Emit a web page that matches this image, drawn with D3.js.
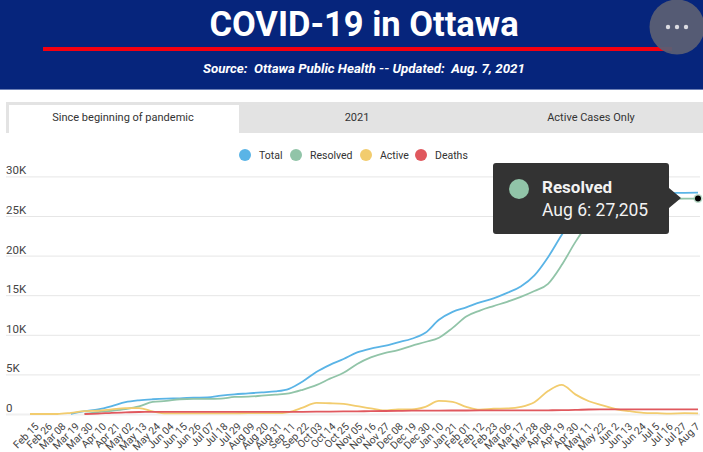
<!DOCTYPE html>
<html>
<head>
<meta charset="utf-8">
<script src="https://cdn.jsdelivr.net/npm/d3@7"></script>
<style>
body { margin: 0; background: #fff; overflow: hidden; }
text { font-family: Roboto, sans-serif; white-space: pre; }
.grid line { stroke: #e6e6e6; }
.grid path, .xaxis path, .xaxis line { display: none; }
.grid text { font-size: 11.5px; fill: #444; }
.xaxis text { font-size: 10.4px; fill: #444; }
.lgnd { font-size: 10.5px; fill: #333; }
.tab { font-size: 11px; fill: #333; text-anchor: middle; }
</style>
</head>
<body>
<script>
var categories = ['Feb 15','Feb 26','Mar 08','Mar 19','Mar 30','Apr 10','Apr 21','May 02','May 13','May 24',
  'Jun 04','Jun 15','Jun 26','Jul 07','Jul 18','Jul 29','Aug 09','Aug 20','Aug 31','Sep 11',
  'Sep 22','Oct 03','Oct 14','Oct 25','Nov 05','Nov 16','Nov 27','Dec 08','Dec 19','Dec 30',
  'Jan 10','Jan 21','Feb 01','Feb 12','Feb 23','Mar 06','Mar 17','Mar 28','Apr 08','Apr 19',
  'Apr 30','May 11','May 22','Jun 2','Jun 13','Jun 24','Jul 5','Jul 16','Jul 27','Aug 7'];

var total = [null,null,null,30,370,580,990,1490,1730,1860,
  1940,1980,2060,2100,2310,2480,2600,2730,2850,3180,
  4100,5300,6200,6940,7770,8260,8600,9050,9500,10250,
  11900,12900,13470,14090,14590,15290,16100,17500,19800,22600,
  25100,26500,27300,27650,27800,27850,27880,27900,27930,27950];
var resolved = [null,null,null,null,30,250,410,620,950,1530,
  1650,1860,1900,1900,1940,2150,2190,2310,2440,2600,
  3060,3640,4460,5200,6320,7150,7690,8060,8600,9090,
  9630,10870,12310,13060,13630,14170,14790,15530,16440,18800,
  21700,24200,25900,26600,26950,27100,27150,27170,27190,27205];
var active = [0,0,0,150,370,410,580,740,740,330,
  80,70,70,70,80,90,100,100,100,250,
  800,1400,1360,1280,990,700,450,580,580,900,
  1650,1530,900,540,660,700,900,1490,2890,3680,
  2480,1610,1100,600,350,150,100,60,100,90];
var deaths = [null,null,null,null,0,50,150,210,250,260,
  265,265,265,265,265,270,270,270,270,275,
  280,290,300,320,340,360,380,400,420,430,
  435,440,445,450,450,455,460,465,470,480,
  510,570,585,590,590,590,590,590,590,590];

var seriesNames = ['Total','Resolved','Active','Deaths'];
var seriesColors = ['#5ab4e6','#91c4a8','#f2cc6e','#e0585e'];
var seriesValues = [total,resolved,active,deaths];
var yTicks = [0,5000,10000,15000,20000,25000,30000];
var yLabels = ['0','5K','10K','15K','20K','25K','30K'];

var svg = d3.select('body').append('svg')
  .attr('width',703)
  .attr('height',452);

// header band
svg.append('rect').attr('width',703).attr('height',89).attr('fill','#06257c');
svg.append('rect').attr('y',89).attr('width',703).attr('height',1).attr('fill','#6d80b6');
svg.append('text').attr('x',364).attr('y',36).attr('text-anchor','middle')
  .attr('font-size',34.5).attr('font-weight',700).attr('fill','#fff').text('COVID-19 in Ottawa');
svg.append('rect').attr('x',43).attr('y',47).attr('width',629).attr('height',4).attr('fill','#f5000f');
svg.append('text').attr('x',364).attr('y',73).attr('text-anchor','middle')
  .attr('font-size',13.3).attr('font-weight',700).attr('font-style','italic').attr('fill','#fff')
  .text('Source:  Ottawa Public Health -- Updated:  Aug. 7, 2021');

// menu button
svg.append('circle').attr('cx',677).attr('cy',27).attr('r',27.5).attr('fill','#5a5e74').attr('fill-opacity',0.95);
svg.selectAll('.dot').data([668,677,686]).enter().append('circle')
  .attr('class','dot').attr('cx',function(d) {return d;}).attr('cy',27).attr('r',2.2).attr('fill','#dcdce2');

// tabs
svg.append('rect').attr('x',6).attr('y',102).attr('width',697).attr('height',31).attr('fill','#e3e3e3');
svg.append('rect').attr('x',9).attr('y',105).attr('width',230).attr('height',28).attr('fill','#fff');
svg.append('text').attr('class','tab').attr('x',123).attr('y',121).text('Since beginning of pandemic');
svg.append('text').attr('class','tab').attr('x',357).attr('y',121).text('2021');
svg.append('text').attr('class','tab').attr('x',591).attr('y',121).text('Active Cases Only');

// legend
var legendCircle = [245,296,366,421];
var legendText = [259,310,380,435];
svg.selectAll('.lgndDot').data(seriesNames).enter().append('circle')
  .attr('class','lgndDot').attr('r',6).attr('cy',155)
  .attr('cx',function(d,i) {return legendCircle[i];})
  .attr('fill',function(d,i) {return seriesColors[i];});
svg.selectAll('.lgnd').data(seriesNames).enter().append('text')
  .attr('class','lgnd').attr('y',159)
  .attr('x',function(d,i) {return legendText[i];})
  .text(function(d) {return d;});

// scales
var x = d3.scalePoint().domain(categories).range([30,698]);
var xLabels = d3.scalePoint().domain(categories).range([39,700]); // labels drift a bit from the ticks
var y = d3.scaleLinear().domain([0,30000]).range([414,176.4]);

var grid = svg.append('g').attr('class','grid').attr('transform','translate(6,0)')
  .call(d3.axisRight(y).tickValues(yTicks).tickSize(694)
    .tickFormat(function(d,i) {return yLabels[i];}));
grid.selectAll('text').attr('x',0).attr('dy',-2.5).attr('text-anchor','start');
grid.selectAll('line').filter(function(d) {return d===0;}).attr('stroke-width',2).style('stroke','#f0f0f0');

var xaxis = svg.append('g').attr('class','xaxis').attr('transform','translate(0,427)')
  .call(d3.axisBottom(xLabels).tickSize(0));
xaxis.selectAll('text')
  .attr('text-anchor','end')
  .attr('y',0).attr('dy',0)
  .attr('transform','rotate(-45)');

// lines
var line = d3.line()
  .defined(function(d) {return d!==null;})
  .x(function(d,i) {return x(categories[i]);})
  .y(function(d) {return y(d);})
  .curve(d3.curveMonotoneX);

svg.selectAll('.series').data(seriesValues).enter().append('path')
  .attr('class','series')
  .attr('d',line)
  .attr('fill','none')
  .attr('stroke-width',1.8)
  .attr('stroke',function(d,i) {return seriesColors[i];});

// hovered point
var last = categories[categories.length-1];
svg.append('circle').attr('cx',x(last)).attr('cy',y(resolved[resolved.length-1])).attr('r',4.5).attr('fill','#91c4a8').attr('opacity',0.6);
svg.append('circle').attr('cx',x(last)).attr('cy',y(resolved[resolved.length-1])).attr('r',3).attr('fill','#000');

// tooltip
svg.append('path')
  .attr('d','M 496 163 H 666 Q 669 163 669 166 V 188 L 681 198 L 669 208 V 231 Q 669 234 666 234 H 496 Q 493 234 493 231 V 166 Q 493 163 496 163 Z')
  .attr('fill','#333');
svg.append('circle').attr('cx',519).attr('cy',189).attr('r',10).attr('fill','#91c4a8');
svg.append('text').attr('x',542).attr('y',193).attr('font-size',17).attr('font-weight',700).attr('fill','#f2f2f2').text('Resolved');
svg.append('text').attr('x',542).attr('y',216).attr('font-size',17.5).attr('fill','#f2f2f2').text('Aug 6: 27,205');
</script>
</body>
</html>
